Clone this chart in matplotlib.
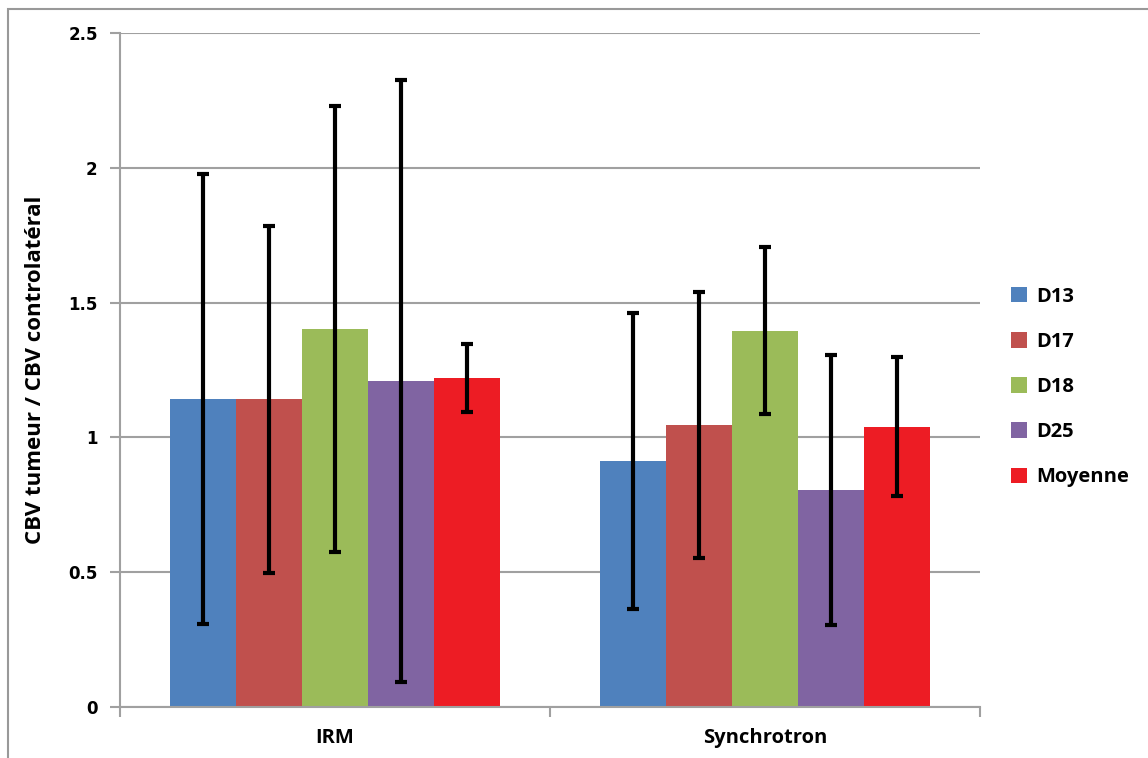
import numpy as np
import matplotlib
matplotlib.use("Agg")
import matplotlib.pyplot as plt
from matplotlib.patches import Rectangle

plt.rcParams['font.family'] = ['Open Sans', 'DejaVu Sans']

categories = ["IRM", "Synchrotron"]
series = ["D13", "D17", "D18", "D25", "Moyenne"]
values = {
    "D13": [1.141, 0.912],
    "D17": [1.141, 1.046],
    "D18": [1.402, 1.396],
    "D25": [1.209, 0.805],
    "Moyenne": [1.220, 1.040],
}
errors = {
    "D13": [0.835, 0.549],
    "D17": [0.644, 0.495],
    "D18": [0.826, 0.311],
    "D25": [1.117, 0.500],
    "Moyenne": [0.125, 0.257],
}
colors = ["#4F81BD", "#C0504D", "#9BBB59", "#8064A2", "#ED1C24"]

fig = plt.figure(figsize=(11.48, 7.58), dpi=100)
ax = fig.add_axes([0.1045, 0.0673, 0.7492, 0.8892])

# outer chart frame (only left and top edges fall inside the picture)
fig.patches.append(Rectangle((8 / 1148, -0.1), 1.2, 1.1 - 9 / 758, transform=fig.transFigure,
                             fill=False, edgecolor="#999999", linewidth=1.5))

x = np.arange(len(categories))
w = 0.1535
for i, s in enumerate(series):
    pos = x + (i - 2) * w
    ax.bar(pos, values[s], width=w, color=colors[i], label=s, zorder=2)
    ax.errorbar(pos, values[s], yerr=errors[s], fmt="none", ecolor="black",
                elinewidth=3, capsize=4, capthick=3, zorder=3)

ax.set_xlim(-0.5, 1.5)
ax.set_ylim(0, 2.5)
ax.set_yticks([0, 0.5, 1, 1.5, 2, 2.5])
ax.set_yticklabels(["0", "0.5", "1", "1.5", "2", "2.5"], fontweight="bold", fontsize=12,
                   family="DejaVu Sans")
ax.yaxis.grid(True, color="#A0A0A0", linewidth=1.5, zorder=0)
ax.set_axisbelow(True)

ax.set_xticks(x)
ax.set_xticklabels(categories, fontweight="bold", fontsize=14.5)
ax.tick_params(axis="x", which="major", length=0, pad=15)
ax.set_xticks([-0.5, 0.5, 1.5], minor=True)
ax.tick_params(axis="x", which="minor", length=7, color="#A0A0A0", width=1.5)
ax.tick_params(axis="y", length=7, color="#A0A0A0", width=1.5, pad=9)

for sp in ["top", "right"]:
    ax.spines[sp].set_visible(False)
for sp in ["left", "bottom"]:
    ax.spines[sp].set_color("#A0A0A0")
    ax.spines[sp].set_linewidth(1.5)

ax.set_ylabel("CBV tumeur / CBV controlatéral", fontweight="bold", fontsize=16, labelpad=16)

fig.legend(loc="center left", bbox_to_anchor=(993 / 1148, 1 - 387 / 758), frameon=False,
           handlelength=0.8, handleheight=0.8, handletextpad=0.45, labelspacing=1.25,
           prop={"weight": "bold", "size": 14.5})

fig.savefig("out.png", dpi=100)
